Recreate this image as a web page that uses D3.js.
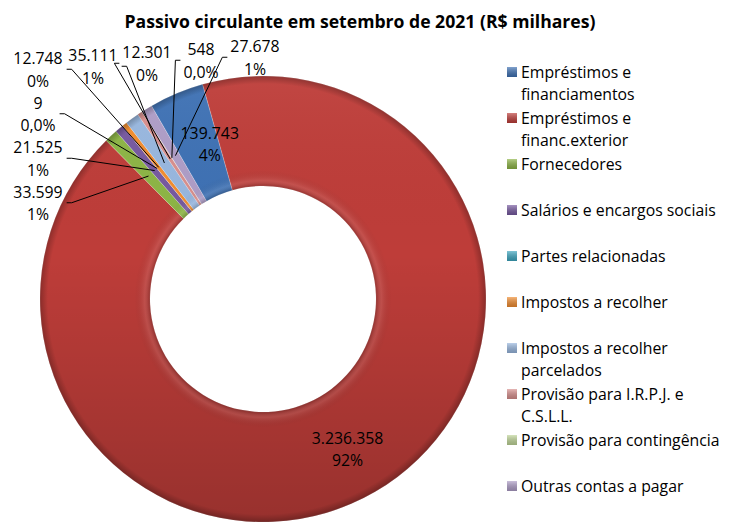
<!DOCTYPE html>
<html>
<head>
<meta charset="utf-8">
<script src="https://cdn.jsdelivr.net/npm/d3@7"></script>
<style>
body{margin:0;background:#fff;}
text{font-family:"Open Sans",Lato,sans-serif;fill:#000;}
</style>
</head>
<body>
<div id="chart"></div>
<script>
// dados do passivo circulante (R$ milhares)
const categories = ["Empréstimos e\nfinanciamentos", "Empréstimos e\nfinanc.exterior", "Fornecedores",
	"Salários e encargos sociais", "Partes relacionadas", "Impostos a recolher",
	"Impostos a recolher\nparcelados", "Provisão para I.R.P.J.  e\nC.S.L.L.", "Provisão para contingência",
	"Outras contas a pagar"];
const values = [139743, 3236358, 33599, 21525, 9, 12748, 35111, 12301, 548, 27678];
const pctLabels = ["4%", "92%", "1%", "1%", "0,0%", "0%", "1%", "0%", "0,0%", "1%"];
const colors = ["#3E71B4", "#BE3D39", "#8DB545", "#7659A0", "#3CA6C0", "#F28D30", "#98B7DF", "#D88F8D", "#C0D698", "#AE9DC7"];

// quais rotulos ficam fora do anel
const leftLabels = [5, 4, 3, 2];
const topLabels = [6, 7, 8, 9];

let width = 733, height = 525;
let cx = 263, cy = 299, rIn = 113, rOut = 223;

let br = d3.formatLocale({decimal: ",", thousands: ".", grouping: [3], currency: ["R$", ""]});
let fmt = br.format(",d");

let svg = d3.select("#chart").append("svg").attr("width", width).attr("height", height);

let defs = svg.append("defs");
// coordenadas relativas ao centro do anel (os paths estao transladados)
let shade = defs.append("linearGradient").attr("id", "shade")
	.attr("gradientUnits", "userSpaceOnUse")
	.attr("x1", 0).attr("y1", -rOut).attr("x2", 0).attr("y2", rOut);
shade.append("stop").attr("offset", "0%").attr("stop-color", "#fff").attr("stop-opacity", 0.05);
shade.append("stop").attr("offset", "40%").attr("stop-color", "#000").attr("stop-opacity", 0);
shade.append("stop").attr("offset", "100%").attr("stop-color", "#000").attr("stop-opacity", 0.2);

let bevel = defs.append("radialGradient").attr("id", "bevel")
	.attr("gradientUnits", "userSpaceOnUse")
	.attr("cx", 0).attr("cy", 0).attr("r", rOut);
bevel.append("stop").attr("offset", rIn / rOut).attr("stop-color", "#000").attr("stop-opacity", 0.2);
bevel.append("stop").attr("offset", rIn / rOut + 0.025).attr("stop-color", "#fff").attr("stop-opacity", 0.1);
bevel.append("stop").attr("offset", rIn / rOut + 0.07).attr("stop-color", "#000").attr("stop-opacity", 0);
bevel.append("stop").attr("offset", 0.965).attr("stop-color", "#000").attr("stop-opacity", 0);
bevel.append("stop").attr("offset", 1).attr("stop-color", "#000").attr("stop-opacity", 0.25);

let legGrad = defs.append("linearGradient").attr("id", "legshade").attr("x1", 0).attr("y1", 0).attr("x2", 0).attr("y2", 1);
legGrad.append("stop").attr("offset", "0%").attr("stop-color", "#fff").attr("stop-opacity", 0.35);
legGrad.append("stop").attr("offset", "100%").attr("stop-color", "#000").attr("stop-opacity", 0.2);

svg.append("text")
	.attr("x", 360).attr("y", 28)
	.attr("text-anchor", "middle")
	.style("font-weight", "bold").style("font-size", "17.6px")
	.text("Passivo circulante em setembro de 2021 (R$ milhares)");

let pie = d3.pie().sort(null).value(d => d)
	.startAngle(-Math.PI / 6).endAngle(2 * Math.PI - Math.PI / 6);
let arcs = pie(values);

let arc = d3.arc().innerRadius(rIn).outerRadius(rOut);
let mid = d3.arc().innerRadius((rIn + rOut) / 2).outerRadius((rIn + rOut) / 2);

let ring = svg.append("g").attr("transform", "translate(" + cx + "," + cy + ")");

ring.selectAll("path.slice")
	.data(arcs)
	.join("path")
	.attr("class", "slice")
	.attr("d", arc)
	.attr("fill", (d, i) => colors[i])
	.attr("stroke", "#fff").attr("stroke-opacity", 0.35).attr("stroke-width", 0.6);

// sombreado tipo bisel por cima
ring.append("g").selectAll("path")
	.data(arcs)
	.join("path")
	.attr("d", arc)
	.attr("fill", "url(#shade)");
ring.append("g").selectAll("path")
	.data(arcs)
	.join("path")
	.attr("d", arc)
	.attr("fill", "url(#bevel)");

let fs = 15.8, lh = 22.5;

function labelText(g, i, x, y) {
	let t = g.append("text").attr("text-anchor", "middle").style("font-size", fs + "px");
	t.append("tspan").attr("x", x).attr("y", y).attr("dominant-baseline", "central").text(fmt(values[i]));
	t.append("tspan").attr("x", x).attr("y", y + lh).attr("dominant-baseline", "central").text(pctLabels[i]);
	return t;
}

let labels = svg.append("g");

// rotulos dentro do anel (o excel empurra um pouco)
let nudge = {0: [12, 0], 1: [0, 5]};
[0, 1].forEach(i => {
	let c = mid.centroid(arcs[i]);
	labelText(labels, i, cx + c[0] + nudge[i][0], cy + c[1] - lh / 2 + nudge[i][1]);
});

// rotulos de fora com linhas de chamada
let outside = [];
leftLabels.forEach((i, k) => outside.push({i: i, x: cx - 225, y: 58 + k * 44.5}));
topLabels.forEach((i, k) => outside.push({i: i, x: 93 + k * 54, y: 55 - k * 3}));

outside.forEach(o => {
	let t = labelText(labels, o.i, o.x, o.y);
	let bb = t.node().getBBox();
	let c = mid.centroid(arcs[o.i]);
	let px = cx + c[0], py = cy + c[1];
	let my = o.y + lh / 2;
	let pts;
	if (px > bb.x + bb.width) {
		let r = bb.x + bb.width;
		pts = [[r + 4, my], [r + 9, my], [px, py]];
	} else {
		let l = bb.x;
		pts = [[l - 3, my], [l - 8, my], [px, py]];
	}
	labels.append("path")
		.attr("d", d3.line()(pts))
		.attr("fill", "none").attr("stroke", "#000").attr("stroke-width", 1);
});

// legenda
let legend = svg.append("g");
categories.forEach((name, i) => {
	let y0 = 72 + i * 46;
	legend.append("rect").attr("x", 507).attr("y", y0 - 5).attr("width", 10).attr("height", 10).attr("fill", colors[i]);
	legend.append("rect").attr("x", 507).attr("y", y0 - 5).attr("width", 10).attr("height", 10).attr("fill", "url(#legshade)");
	let t = legend.append("text").style("font-size", fs + "px");
	name.split("\n").forEach((line, j) => {
		t.append("tspan").attr("x", 521).attr("y", y0 + j * 21.5).attr("dominant-baseline", "central").text(line);
	});
});
</script>
</body>
</html>
